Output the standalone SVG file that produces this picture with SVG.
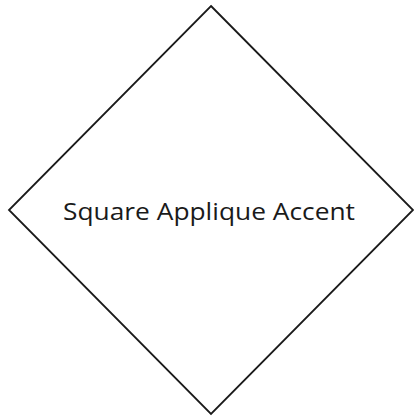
<svg xmlns="http://www.w3.org/2000/svg" width="414" height="417" viewBox="0 0 414 417">
<style>
.shape{fill:#ffffff;stroke:#1a1a1a;stroke-width:1.8}
.label{font-family:"Open Sans","Liberation Sans",sans-serif;font-size:23px;fill:#1a1a1a}
</style>
<rect width="414" height="417" fill="#ffffff"/>
<g id="node-square-applique-accent">
<polygon class="shape" points="211,6 413,210 211,414 9,210"/>
<text class="label" x="209" y="220" text-anchor="middle" textLength="292" lengthAdjust="spacingAndGlyphs">Square Applique Accent</text>
</g>
</svg>
